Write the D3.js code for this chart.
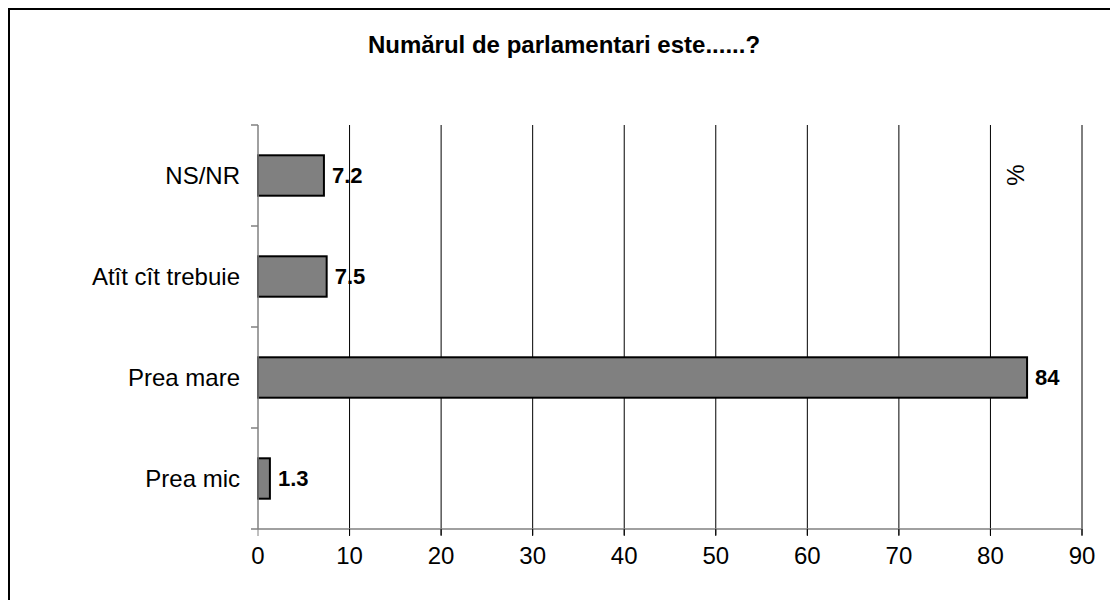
<!DOCTYPE html>
<html>
<head>
<meta charset="utf-8">
<script src="https://cdn.jsdelivr.net/npm/d3@7"></script>
<style>
    body { margin: 0; background: #fff; }
    svg { display: block; font-family: Arial, "Liberation Sans", sans-serif; }
</style>
</head>
<body>
<svg id="chart" width="1110" height="600"></svg>
<script>
// chart data
let categories = ['NS/NR', 'Atît cît trebuie', 'Prea mare', 'Prea mic'];
let values = [7.2, 7.5, 84, 1.3];
let valueLabels = ['7.2', '7.5', '84', '1.3'];
let xTicks = [0, 10, 20, 30, 40, 50, 60, 70, 80, 90];
let titleText = 'Numărul de parlamentari este......?';
let unitText = '%';

let svg = d3.select('#chart');

// outer frame (runs off the right and bottom edge like the original)
svg.append('rect')
    .attr('x', 9).attr('y', 9)
    .attr('width', 1140).attr('height', 640)
    .attr('fill', '#fff')
    .attr('stroke', '#000')
    .attr('stroke-width', 2);

let plot = { left: 258, right: 1082, top: 125, bottom: 529 };

let x = d3.scaleLinear()
    .domain([0, 90])
    .range([plot.left, plot.right]);

let y = d3.scaleBand()
    .domain(categories)
    .range([plot.top, plot.bottom])
    .paddingInner(0.6)
    .paddingOuter(0.3);

let band = d3.scaleBand()
    .domain(categories)
    .range([plot.top, plot.bottom]);

// vertical grid lines
svg.append('g')
    .selectAll('line.grid')
    .data(xTicks.filter((d) => { return d > 0; }))
    .enter()
    .append('line')
    .attr('class', 'grid')
    .attr('x1', (d) => { return x(d); })
    .attr('x2', (d) => { return x(d); })
    .attr('y1', plot.top)
    .attr('y2', plot.bottom + 6)
    .attr('stroke', '#000')
    .attr('stroke-width', 1);

// bars
svg.append('g')
    .selectAll('rect.bar')
    .data(values)
    .enter()
    .append('rect')
    .attr('class', 'bar')
    .attr('x', x(0))
    .attr('y', (d, i) => { return y(categories[i]); })
    .attr('width', (d) => { return x(d) - x(0); })
    .attr('height', y.bandwidth())
    .attr('fill', '#808080')
    .attr('stroke', '#000')
    .attr('stroke-width', 2);

// value labels
svg.append('g')
    .selectAll('text.value')
    .data(values)
    .enter()
    .append('text')
    .attr('class', 'value')
    .attr('x', (d) => { return x(d) + 8; })
    .attr('y', (d, i) => { return y(categories[i]) + y.bandwidth() / 2; })
    .attr('dy', '0.35em')
    .attr('font-size', 22)
    .attr('font-weight', 'bold')
    .attr('fill', '#000')
    .text((d, i) => { return valueLabels[i]; });

// y axis
let yAxis = svg.append('g');
yAxis.append('line')
    .attr('x1', plot.left).attr('x2', plot.left)
    .attr('y1', plot.top).attr('y2', plot.bottom)
    .attr('stroke', '#808080').attr('stroke-width', 1.5);

let bounds = categories.map((c) => { return band(c); }).concat([plot.bottom]);
yAxis.selectAll('line.tick')
    .data(bounds)
    .enter()
    .append('line')
    .attr('x1', plot.left - 7).attr('x2', plot.left)
    .attr('y1', (d) => { return d; }).attr('y2', (d) => { return d; })
    .attr('stroke', '#808080').attr('stroke-width', 1.5);

yAxis.selectAll('text')
    .data(categories)
    .enter()
    .append('text')
    .attr('x', plot.left - 18)
    .attr('y', (d) => { return band(d) + band.bandwidth() / 2; })
    .attr('dy', '0.35em')
    .attr('text-anchor', 'end')
    .attr('font-size', 24)
    .attr('fill', '#000')
    .text((d) => { return d; });

// x axis
let xAxis = svg.append('g');
xAxis.append('line')
    .attr('x1', plot.left).attr('x2', plot.right)
    .attr('y1', plot.bottom).attr('y2', plot.bottom)
    .attr('stroke', '#808080').attr('stroke-width', 1.5);

xAxis.selectAll('line.tick')
    .data(xTicks)
    .enter()
    .append('line')
    .attr('x1', (d) => { return x(d); }).attr('x2', (d) => { return x(d); })
    .attr('y1', plot.bottom).attr('y2', plot.bottom + 7)
    .attr('stroke', (d) => { return d === 0 ? '#808080' : '#000'; })
    .attr('stroke-width', 1);

xAxis.selectAll('text')
    .data(xTicks)
    .enter()
    .append('text')
    .attr('x', (d) => { return x(d); })
    .attr('y', 556)
    .attr('dy', '0.35em')
    .attr('text-anchor', 'middle')
    .attr('font-size', 24)
    .attr('fill', '#000')
    .text((d) => { return d; });

// title
svg.append('text')
    .attr('x', 564)
    .attr('y', 45)
    .attr('dy', '0.35em')
    .attr('text-anchor', 'middle')
    .attr('font-size', 24)
    .attr('font-weight', 'bold')
    .text(titleText);

// unit label
svg.append('text')
    .attr('transform', 'translate(1016,175) rotate(-90)')
    .attr('text-anchor', 'middle')
    .attr('dy', '0.35em')
    .attr('font-size', 24)
    .text(unitText);
</script>
</body>
</html>
